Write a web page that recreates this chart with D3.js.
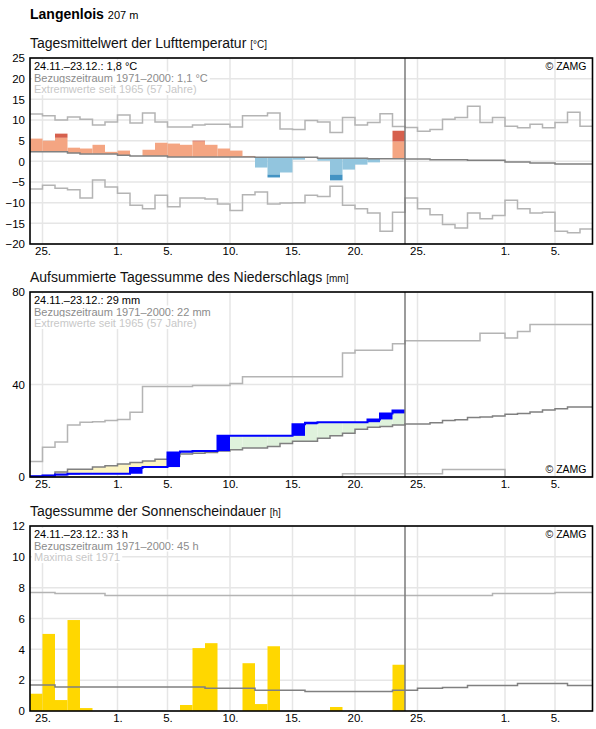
<!doctype html>
<html lang="de">
<head>
    <meta charset="utf-8"/>
    <title>Langenlois - Klimamonitoring</title>
    <script src="https://d3js.org/d3.v7.min.js"></script>
    <style>
        body {
            margin: 0;
            padding: 0;
            background: white;
        }

        svg text {
            font-family: Arial, "Liberation Sans", sans-serif;
        }
    </style>
</head>
<body>
<script>

    // Zeitraum: 24.11. bis 7.1. (45 Tage), Messwerte bis 23.12.
    const startDay = "2021-11-24"
    const nDays = 45
    const tickDays = ["2021-11-25", "2021-12-01", "2021-12-05", "2021-12-10", "2021-12-15",
        "2021-12-20", "2021-12-25", "2022-01-01", "2022-01-05"]

    // Temperatur [°C]
    const tempMean = [5.5, 5.0, 6.7, 3.3, 3.1, 4.0, 2.3, 2.6, 1.3, 2.8, 4.5, 4.3, 4.0, 5.0, 4.0,
        3.1, 2.6, 1.3, -1.5, -3.9, -2.7, 0.4, 0.97, 0.15, -4.6, -2.0, -0.8, -0.25, 0.65, 7.4]
    // ab hier dunkler eingefaerbt
    const tempStrong = [null, null, 5.7, null, null, null, null, null, null, null, null, null, null, 4.8, null,
        null, null, null, null, -3.2, null, null, null, null, -3.2, null, null, null, null, 4.8]
    const tempClim = [2.3, 2.3, 2.3, 2.0, 1.8, 1.8, 1.8, 1.5, 1.3, 1.3, 1.3, 1.05, 1.05, 1.05, 1.05,
        1.05, 1.05, 1.05, 1.0, 1.0, 1.0, 0.97, 0.97, 0.75, 0.75, 0.75, 0.75, 0.65, 0.65, 0.65,
        0.56, 0.56, 0.4, 0.4, 0.4, 0.24, 0.24, 0.24, -0.16, -0.16, -0.4, -0.4, -0.65, -0.65, -0.65]
    const tempMax = [11.45, 11.0, 10.0, 10.7, 10.2, 8.8, 9.5, 11.2, 9.3, 11.7, 9.5, 8.3, 8.3, 8.8, 9.0,
        9.0, 8.3, 11.0, 11.0, 11.7, 7.8, 7.7, 9.9, 9.5, 7.0, 10.6, 8.8, 9.4, 11.5, 8.4,
        8.2, 7.3, 7.7, 10.2, 10.6, 13.3, 9.4, 10.6, 8.5, 8.1, 9.0, 8.1, 9.4, 11.9, 8.5]
    const tempMin = [-6.7, -5.8, -6.5, -6.9, -8.9, -4.5, -6.2, -7.7, -10.6, -11.5, -8.2, -11.0, -8.9, -8.9, -9.1,
        -10.3, -11.9, -8.1, -7.4, -10.3, -10.1, -10.0, -8.2, -8.5, -6.0, -10.6, -11.5, -12.5, -16.9, -12.3,
        -8.9, -11.5, -12.9, -15.3, -16.1, -12.5, -13.9, -13.1, -9.4, -11.5, -12.5, -12.3, -16.9, -17.3, -16.4]

    // Niederschlag aufsummiert [mm]
    const precCum = [0.3, 0.7, 1.1, 1.4, 1.4, 1.4, 1.4, 1.4, 3.9, 4.3, 4.3, 10.6, 11.0, 11.2, 11.2,
        17.8, 17.8, 17.8, 17.8, 17.8, 17.8, 22.8, 23.5, 23.7, 23.7, 23.7, 23.7, 24.9, 27.5, 28.8]
    const precClim = [0.3, 0.7, 2.2, 3.4, 3.4, 4.3, 4.9, 5.6, 6.3, 6.9, 7.7, 8.9, 9.9, 10.3, 10.6,
        11.2, 11.8, 12.5, 12.5, 13.2, 14.5, 15.5, 15.5, 16.8, 17.8, 18.9, 20.6, 21.5, 21.8, 22.5,
        22.9, 22.9, 23.5, 24.4, 24.8, 25.7, 25.9, 26.4, 27.1, 27.5, 28.1, 29.0, 29.5, 30.3, 30.3]
    const precMax = [6.7, 12.9, 15.1, 22.5, 23.7, 23.9, 24.4, 24.9, 28.0, 39.1, 39.1, 39.1, 39.1, 39.6, 39.6,
        39.6, 40.4, 43.3, 43.3, 43.3, 43.3, 43.3, 43.3, 43.3, 43.3, 53.6, 54.8, 54.8, 54.8, 57.6,
        58.9, 58.9, 58.9, 58.9, 58.9, 58.9, 62.2, 62.2, 60.1, 62.9, 66.0, 66.0, 66.0, 66.0, 66.0]
    const precMin = [0, 0, 0, 0, 0, 0, 0, 0, 0, 0, 0, 0, 0, 0, 0,
        0, 0, 0, 0, 0, 0, 0, 0, 0, 0, 1.4, 1.4, 1.4, 1.4, 1.4,
        1.4, 1.4, 1.4, 3.2, 3.2, 3.2, 3.2, 3.2, 0, 0, 0, 0, 0, 0, 0]

    // Sonnenscheindauer [h]
    const sunHours = [1.12, 5.0, 0.71, 5.9, 0.19, 0, 0, 0, 0, 0, 0, 0, 0.39, 4.08, 4.4,
        0, 0, 3.1, 0.45, 4.2, 0, 0, 0, 0, 0.26, 0, 0, 0, 0, 3.0]
    const sunClim = [1.68, 1.68, 1.55, 1.55, 1.55, 1.55, 1.55, 1.55, 1.55, 1.55, 1.55, 1.55, 1.55, 1.55, 1.47,
        1.47, 1.47, 1.47, 1.34, 1.34, 1.34, 1.34, 1.27, 1.27, 1.27, 1.27, 1.27, 1.27, 1.27, 1.34,
        1.34, 1.47, 1.47, 1.53, 1.53, 1.66, 1.66, 1.66, 1.66, 1.79, 1.79, 1.79, 1.79, 1.66, 1.66]
    const sunMax = [7.69, 7.69, 7.62, 7.62, 7.62, 7.62, 7.49, 7.49, 7.49, 7.49, 7.49, 7.49, 7.49, 7.49, 7.49,
        7.49, 7.49, 7.49, 7.49, 7.49, 7.49, 7.49, 7.49, 7.49, 7.49, 7.49, 7.49, 7.49, 7.49, 7.49,
        7.49, 7.49, 7.49, 7.49, 7.49, 7.49, 7.49, 7.62, 7.62, 7.62, 7.62, 7.62, 7.69, 7.69, 7.69]

    // Farben
    const cWarm = "#f4a582", cWarmStrong = "#d6604d"
    const cCold = "#92c5de", cColdStrong = "#4393c3"
    const cClim = "#808080", cExtreme = "#b4b4b4", cGrid = "#e6e6e6"

    const width = 596, height = 729
    const left = 30, right = 592.5

    const svg = d3.select("body").append("svg")
        .attr("width", width)
        .attr("height", height)

    const parseDay = d3.utcParse("%Y-%m-%d")
    const day0 = parseDay(startDay)
    const dayAt = i => d3.utcDay.offset(day0, i)

    const x = d3.scaleUtc()
        .domain([day0, dayAt(nDays)])
        .range([left, right])

    const ticks = tickDays.map(parseDay)
    const fmtTick = d3.utcFormat("%-d.")

    // Kopfzeile
    const head = svg.append("text").attr("x", left).attr("y", 19)
    head.append("tspan").attr("font-size", 14).attr("font-weight", "bold").text("Langenlois ")
    head.append("tspan").attr("font-size", 11).text("207 m")

    // baut den Rahmen eines Panels: Titel, Gitter, Achsen
    function panel(cfg) {
        const g = svg.append("g")
        const y = d3.scaleLinear().domain(cfg.domain).range([cfg.bottom, cfg.top])

        const title = g.append("text").attr("x", left).attr("y", cfg.top - 10).attr("fill", "#111")
        title.append("tspan").attr("font-size", 14).text(cfg.title + " ")
        title.append("tspan").attr("font-size", 10).text(cfg.unit)

        // Gitter
        g.append("g").selectAll("line.h")
            .data(cfg.yTicks)
            .join("line")
            .attr("x1", left).attr("x2", right)
            .attr("y1", d => y(d)).attr("y2", d => y(d))
            .attr("stroke", cGrid).attr("stroke-width", 1.5)
        g.append("g").selectAll("line.v")
            .data(ticks)
            .join("line")
            .attr("x1", d => x(d)).attr("x2", d => x(d))
            .attr("y1", cfg.top).attr("y2", cfg.bottom)
            .attr("stroke", cGrid).attr("stroke-width", 1.5)

        // Achsen (nur Beschriftung, Linien macht der Rahmen)
        const yAxis = g.append("g")
            .attr("transform", `translate(${left - 5},0)`)
            .call(d3.axisLeft(y).tickValues(cfg.yTicks).tickSize(0).tickPadding(0))
        const xAxis = g.append("g")
            .attr("transform", `translate(0,${cfg.bottom + 3})`)
            .call(d3.axisBottom(x).tickValues(ticks).tickFormat(fmtTick).tickSize(0).tickPadding(0))
        yAxis.select(".domain").remove()
        xAxis.select(".domain").remove()
        yAxis.selectAll("text").attr("font-size", 11.5).attr("fill", "#000")
            .attr("font-family", "Arial, 'Liberation Sans', sans-serif")
        xAxis.selectAll("text").attr("font-size", 11.5).attr("fill", "#000")
            .attr("font-family", "Arial, 'Liberation Sans', sans-serif")

        const data = g.append("g")
        const over = g.append("g")
        return {g: g, y: y, data: data, over: over, cfg: cfg}
    }

    // Stufenlinie ueber ganze Tage
    function stepPath(values, y) {
        const pts = values.map((v, i) => [x(dayAt(i)), y(v)])
        pts.push([x(dayAt(values.length)), y(values[values.length - 1])])
        return d3.line().curve(d3.curveStepAfter)(pts)
    }

    function finish(p, lines, zamgTop) {
        const cfg = p.cfg
        const t = p.over

        // Infozeilen mit weissem Hintergrund
        const colors = ["#000", "#8c8c8c", "#c8c8c8"]
        lines.forEach(function (txt, k) {
            const el = t.append("text")
                .attr("x", left + 4)
                .attr("y", cfg.top + 12 + k * 11.5)
                .attr("font-size", 11)
                .attr("fill", colors[k])
                .text(txt)
            const bb = el.node().getBBox()
            t.insert("rect", "text:last-child")
                .attr("x", bb.x - 2).attr("y", bb.y)
                .attr("width", bb.width + 4).attr("height", bb.height)
                .attr("fill", "white")
        })

        t.append("text")
            .attr("x", right - 6)
            .attr("y", zamgTop ? cfg.top + 12 : cfg.bottom - 4)
            .attr("text-anchor", "end")
            .attr("font-size", 10.5)
            .text("© ZAMG")

        // heute
        t.append("line")
            .attr("x1", x(dayAt(30))).attr("x2", x(dayAt(30)))
            .attr("y1", cfg.top).attr("y2", cfg.bottom)
            .attr("stroke", "#7a7a7a").attr("stroke-width", 1.5)

        t.append("rect")
            .attr("x", left).attr("y", cfg.top)
            .attr("width", right - left).attr("height", cfg.bottom - cfg.top)
            .attr("fill", "none").attr("stroke", "#000").attr("stroke-width", 1.6)
    }

    function dayRects(sel, data) {
        return sel.selectAll(null)
            .data(data)
            .join("rect")
            .attr("x", d => x(dayAt(d.i)))
            .attr("width", d => x(dayAt(d.i + 1)) - x(dayAt(d.i)))
            .attr("y", d => Math.min(d.y0, d.y1))
            .attr("height", d => Math.abs(d.y1 - d.y0))
            .attr("fill", d => d.c)
    }

    /*
    *** Temperatur
    */
    const p1 = panel({
        title: "Tagesmittelwert der Lufttemperatur", unit: "[°C]",
        top: 58, bottom: 244, domain: [-20, 25], yTicks: d3.range(-20, 26, 5)
    })
    const y1 = p1.y
    const tempBars = []
    tempMean.forEach(function (v, i) {
        const warm = v >= tempClim[i]
        const s = tempStrong[i]
        const mid = s === null ? v : s
        tempBars.push({i: i, y0: y1(tempClim[i]), y1: y1(mid), c: warm ? cWarm : cCold})
        if (s !== null) tempBars.push({i: i, y0: y1(s), y1: y1(v), c: warm ? cWarmStrong : cColdStrong})
    })
    dayRects(p1.data, tempBars)
    p1.data.append("path").attr("d", stepPath(tempMax, y1))
        .attr("fill", "none").attr("stroke", cExtreme).attr("stroke-width", 1.5)
    p1.data.append("path").attr("d", stepPath(tempMin, y1))
        .attr("fill", "none").attr("stroke", cExtreme).attr("stroke-width", 1.5)
    p1.data.append("path").attr("d", stepPath(tempClim, y1))
        .attr("fill", "none").attr("stroke", cClim).attr("stroke-width", 1.5)
    finish(p1, ["24.11.–23.12.: 1,8 °C", "Bezugszeitraum 1971–2000: 1,1 °C", "Extremwerte seit 1965 (57 Jahre)"], true)

    /*
    *** Niederschlag
    */
    const p2 = panel({
        title: "Aufsummierte Tagessumme des Niederschlags", unit: "[mm]",
        top: 292, bottom: 477, domain: [0, 80], yTicks: [0, 40, 80]
    })
    const y2 = p2.y
    // Flaeche zwischen Messung und Klima
    dayRects(p2.data, precCum.map((v, i) => ({
        i: i, y0: y2(v), y1: y2(precClim[i]),
        c: v < precClim[i] ? "#fcf4c2" : "#dff2dc"
    })))
    p2.data.append("path").attr("d", stepPath(precMax, y2))
        .attr("fill", "none").attr("stroke", cExtreme).attr("stroke-width", 1.5)
    p2.data.append("path").attr("d", stepPath(precMin, y2))
        .attr("fill", "none").attr("stroke", cExtreme).attr("stroke-width", 1.5)
    p2.data.append("path").attr("d", stepPath(precClim, y2))
        .attr("fill", "none").attr("stroke", cClim).attr("stroke-width", 1.5)
    // Tagessummen als Balken
    dayRects(p2.data, precCum.map((v, i) => ({
        i: i, y0: y2(i ? precCum[i - 1] : 0), y1: y2(v), c: "#0000ff"
    })).filter(d => Math.abs(d.y1 - d.y0) > 0.5))
    p2.data.append("path").attr("d", stepPath(precCum, y2))
        .attr("fill", "none").attr("stroke", "#0000ff").attr("stroke-width", 2)
    finish(p2, ["24.11.–23.12.: 29 mm", "Bezugszeitraum 1971–2000: 22 mm", "Extremwerte seit 1965 (57 Jahre)"], false)

    /*
    *** Sonnenschein
    */
    const p3 = panel({
        title: "Tagessumme der Sonnenscheindauer", unit: "[h]",
        top: 526, bottom: 711, domain: [0, 12], yTicks: d3.range(0, 13, 2)
    })
    const y3 = p3.y
    dayRects(p3.data, sunHours.map((v, i) => ({i: i, y0: y3(0), y1: y3(v), c: "#ffd700"})))
    p3.data.append("path").attr("d", stepPath(sunMax, y3))
        .attr("fill", "none").attr("stroke", cExtreme).attr("stroke-width", 1.5)
    p3.data.append("path").attr("d", stepPath(sunClim, y3))
        .attr("fill", "none").attr("stroke", cClim).attr("stroke-width", 1.5)
    finish(p3, ["24.11.–23.12.: 33 h", "Bezugszeitraum 1971–2000: 45 h", "Maxima seit 1971"], true)

</script>
</body>
</html>
